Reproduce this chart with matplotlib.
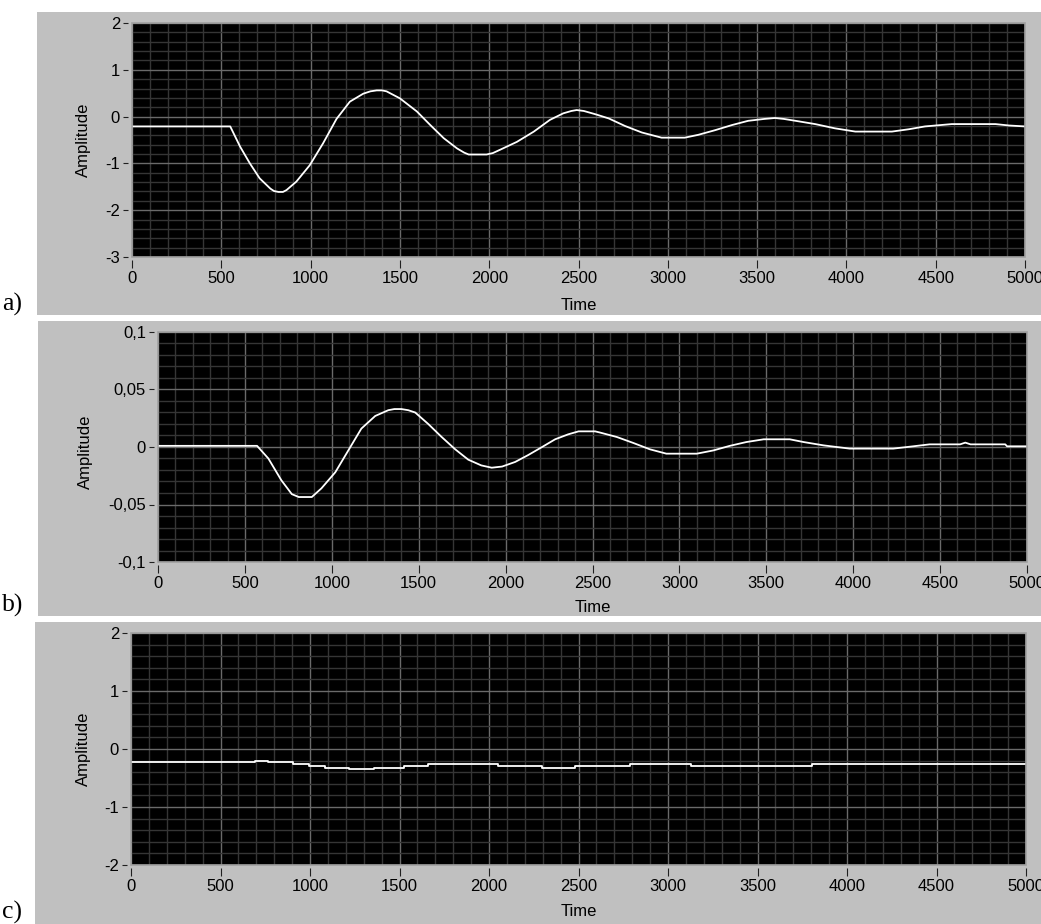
import matplotlib.pyplot as plt
from matplotlib.patches import Rectangle
from matplotlib.ticker import MultipleLocator

# --- data ---
time_a = [0, 550, 605, 660, 715, 775, 795, 820, 845, 865, 920, 995, 1070, 1145, 1220, 1295, 1335,
          1370, 1400, 1425, 1500, 1595, 1670, 1745, 1820, 1860, 1885, 1985, 2020, 2060, 2155, 2250,
          2340, 2415, 2460, 2490, 2530, 2595, 2670, 2760, 2855, 2965, 3095, 3170, 3265, 3360, 3450,
          3540, 3600, 3650, 3715, 3825, 3935, 4050, 4255, 4350, 4440, 4590, 4835, 4910, 5000]
amp_a = [-0.21, -0.21, -0.64, -1.0, -1.32, -1.54, -1.59, -1.61, -1.61, -1.57, -1.39, -1.04, -0.57,
         -0.05, 0.32, 0.49, 0.54, 0.56, 0.56, 0.54, 0.39, 0.11, -0.18, -0.46, -0.68, -0.77, -0.81,
         -0.81, -0.78, -0.71, -0.54, -0.32, -0.07, 0.07, 0.12, 0.14, 0.12, 0.05, -0.04, -0.20,
         -0.34, -0.45, -0.45, -0.39, -0.29, -0.18, -0.09, -0.05, -0.03, -0.05, -0.09, -0.16, -0.25,
         -0.32, -0.32, -0.27, -0.21, -0.16, -0.16, -0.19, -0.21]

time_b = [0, 570, 635, 710, 770, 810, 885, 940, 1020, 1095, 1170, 1250, 1325, 1360, 1400, 1440, 1480,
          1555, 1630, 1710, 1785, 1860, 1920, 1980, 2055, 2130, 2210, 2285, 2360, 2420, 2515, 2545,
          2640, 2735, 2830, 2925, 3100, 3195, 3290, 3385, 3485, 3635, 3715, 3830, 3980, 4230, 4345,
          4440, 4615, 4645, 4675, 4875, 4885, 5000]
amp_b = [0.001, 0.001, -0.010, -0.029, -0.041, -0.0435, -0.0435, -0.036, -0.022, -0.003, 0.016,
         0.027, 0.032, 0.033, 0.033, 0.032, 0.030, 0.020, 0.009, -0.002, -0.011, -0.016, -0.018,
         -0.017, -0.013, -0.007, 0.000, 0.0067, 0.011, 0.0136, 0.0136, 0.0125, 0.0087, 0.0035,
         -0.002, -0.0058, -0.0058, -0.003, 0.001, 0.0043, 0.0067, 0.0067, 0.0043, 0.0014, -0.0014,
         -0.0014, 0.0006, 0.0023, 0.0023, 0.0038, 0.0023, 0.0023, 0.0006, 0.0006]

time_c = [0, 692, 767, 905, 995, 1085, 1220, 1360, 1523, 1659, 2051, 2294, 2481, 2785, 3126, 3802, 5000]
amp_c = [-0.23, -0.20, -0.23, -0.26, -0.30, -0.32, -0.345, -0.32, -0.29, -0.26, -0.29, -0.32, -0.29,
         -0.26, -0.29, -0.26, -0.26]

x_ticks = [0, 500, 1000, 1500, 2000, 2500, 3000, 3500, 4000, 4500, 5000]
yticks_a = [-3, -2, -1, 0, 1, 2]
ylabels_a = ["-3", "-2", "-1", "0", "1", "2"]
yticks_b = [-0.1, -0.05, 0, 0.05, 0.1]
ylabels_b = ["-0,1", "-0,05", "0", "0,05", "0,1"]
yticks_c = [-2, -1, 0, 1, 2]
ylabels_c = ["-2", "-1", "0", "1", "2"]

W, H = 1041, 924
plt.rcParams['font.family'] = ['Liberation Sans', 'DejaVu Sans']
fig = plt.figure(figsize=(W / 100, H / 100), dpi=100)
fig.patch.set_facecolor('white')


def px_rect(x0, y0, x1, y1):
    return [x0 / W, 1 - y1 / H, (x1 - x0) / W, (y1 - y0) / H]


def panel(bg, box, t, y, ylim, yt, yl, ymin, letter, letter_y, amp_xy, time_y, steps=False):
    # gray panel behind the graph
    gx0, gy0, gx1, gy1 = bg
    fig.patches.append(Rectangle((gx0 / W, 1 - gy1 / H), (gx1 - gx0) / W, (gy1 - gy0) / H,
                                 transform=fig.transFigure, facecolor='#c0c0c0',
                                 edgecolor='none', zorder=-5))
    ax = fig.add_axes(px_rect(*box))
    ax.set_zorder(2)
    ax.set_facecolor('black')
    ax.plot(t, y, color='white', lw=1.3, drawstyle='steps-post' if steps else 'default',
            zorder=3)
    ax.set_xlim(0, 5000)
    ax.set_ylim(*ylim)
    ax.set_xticks(x_ticks)
    ax.set_xticklabels([str(v) for v in x_ticks])
    ax.set_yticks(yt)
    ax.set_yticklabels(yl)
    ax.xaxis.set_minor_locator(MultipleLocator(100))
    ax.yaxis.set_minor_locator(MultipleLocator(ymin))
    ax.grid(which='major', color='#6a6a6a', lw=1.0)
    ax.grid(which='minor', color='#353535', lw=1.0)
    ax.set_axisbelow(True)
    for s in ax.spines.values():
        s.set_visible(False)
    ax.spines['bottom'].set_position(('outward', 2.2))
    ax.spines['left'].set_position(('outward', 2.8))
    ax.tick_params(which='major', colors='#202020', width=0.8, labelsize=12, labelcolor='black')
    ax.tick_params(axis='x', which='major', length=5.8, pad=2.2)
    ax.tick_params(axis='y', which='major', length=3.6, pad=2.2)
    ax.tick_params(which='minor', length=0)
    ax.add_patch(Rectangle((0, 0), 1, 1, transform=ax.transAxes, fill=False,
                           edgecolor='#a0a0a0', lw=1.2, clip_on=False, zorder=4))

    x0, y0, x1, y1 = box
    ax.set_ylabel('Amplitude', fontsize=12, ha='center', va='center')
    ax.yaxis.set_label_coords((amp_xy[0] - x0) / (x1 - x0), (y1 - amp_xy[1]) / (y1 - y0))
    ax.set_xlabel('Time', fontsize=12, ha='center', va='center')
    ax.xaxis.set_label_coords(0.5, (y1 - time_y) / (y1 - y0))

    fig.text(2 / W, 1 - letter_y / H, letter, family=['Liberation Serif', 'DejaVu Serif'],
             fontsize=18.5, ha='left', va='baseline')
    return ax


panel((37, 12, 1041, 315), (132, 23, 1025, 257), time_a, amp_a, (-3, 2), yticks_a, ylabels_a,
      0.2, 'a)', 311, (83, 140), 305)
panel((38, 321, 1041, 616), (158, 332, 1027, 562), time_b, amp_b, (-0.1, 0.1), yticks_b, ylabels_b,
      0.01, 'b)', 612, (85, 452), 607)
panel((35, 622, 1041, 924), (131, 633, 1026, 865), time_c, amp_c, (-2, 2), yticks_c, ylabels_c,
      0.2, 'c)', 919, (83, 749), 912, steps=True)

fig.savefig('out.png', dpi=100, facecolor='white')
